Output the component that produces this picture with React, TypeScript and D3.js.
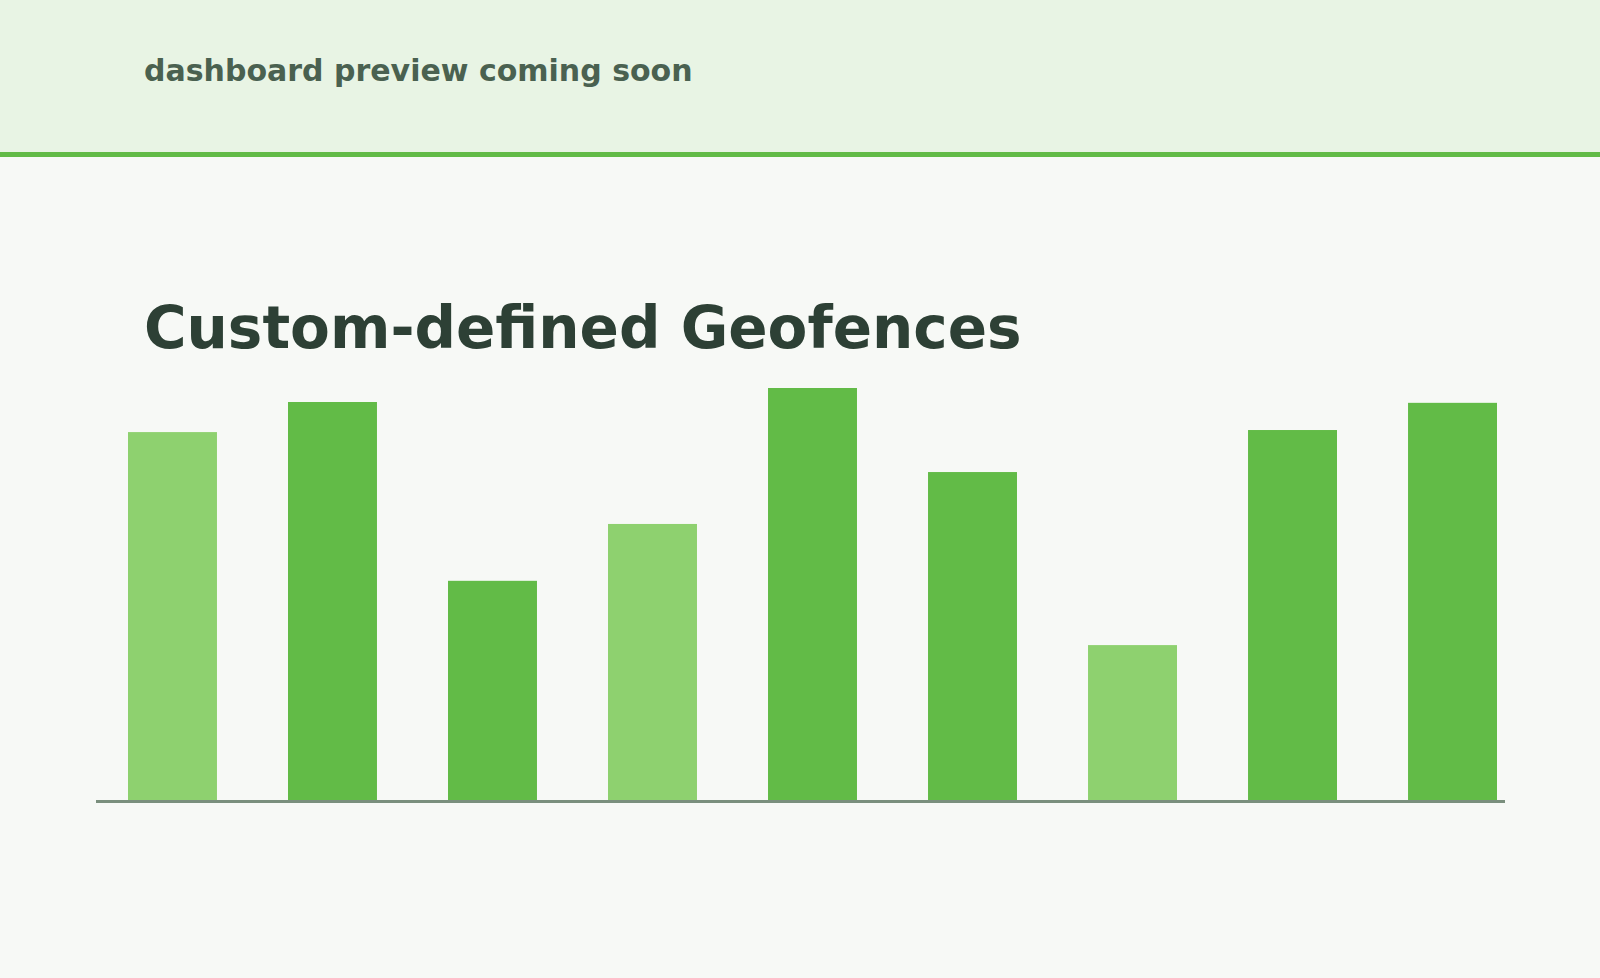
import React, { useEffect, useRef } from 'react';
import * as d3 from 'd3';

// bar data (0..100 scale)
const categories = ['g1', 'g2', 'g3', 'g4', 'g5', 'g6', 'g7', 'g8', 'g9'];
const values = [89.3, 96.6, 53.2, 67.0, 100, 79.6, 37.6, 89.8, 96.4];
const tones = ['light', 'dark', 'dark', 'light', 'dark', 'dark', 'light', 'dark', 'dark'];

const headerText = 'dashboard preview coming soon';
const titleText = 'Custom-defined Geofences';

export default function App() {
  const svgRef = useRef<SVGSVGElement>(null);
  const width = 1600;
  const height = 978;

  useEffect(() => {
    if (!svgRef.current) return;
    document.body.style.margin = '0';

    const svg = d3.select(svgRef.current);
    svg.selectAll('*').remove();

    const baseY = 800;
    const topY = 388;

    // background + header band
    svg.append('rect').attr('width', width).attr('height', height).attr('fill', '#f7f9f6');
    svg.append('rect').attr('width', width).attr('height', 152).attr('fill', '#e8f4e4');
    svg.append('rect').attr('y', 152).attr('width', width).attr('height', 5).attr('fill', '#62bb47');

    svg.append('text')
      .attr('x', 144)
      .attr('y', 81)
      .attr('font-family', 'DejaVu Sans')
      .attr('font-weight', 'bold')
      .attr('font-size', 30)
      .attr('fill', '#4a6150')
      .text(headerText);

    svg.append('text')
      .attr('x', 144)
      .attr('y', 348)
      .attr('font-family', 'DejaVu Sans')
      .attr('font-weight', 'bold')
      .attr('font-size', 58)
      .attr('fill', '#2d4035')
      .text(titleText);

    const x = d3.scaleBand()
      .domain(categories)
      .range([96, 1529])
      .paddingInner(0.444)
      .paddingOuter(0.2);

    const y = d3.scaleLinear()
      .domain([0, 100])
      .range([baseY, topY]);

    svg.append('g')
      .selectAll('rect')
      .data(values)
      .join('rect')
      .attr('x', (_, i) => x(categories[i]) as number)
      .attr('y', d => y(d))
      .attr('width', x.bandwidth())
      .attr('height', d => baseY - y(d))
      .attr('fill', (_, i) => (tones[i] === 'light' ? '#8ed16f' : '#62bb47'));

    // baseline
    svg.append('line')
      .attr('x1', 96)
      .attr('x2', 1505)
      .attr('y1', baseY + 1.5)
      .attr('y2', baseY + 1.5)
      .attr('stroke', '#7a8f7d')
      .attr('stroke-width', 3);
  }, []);

  return (
    <svg
      ref={svgRef}
      width={width}
      height={height}
      style={{ display: 'block', position: 'absolute', left: 0, top: 0 }}
    />
  );
}
